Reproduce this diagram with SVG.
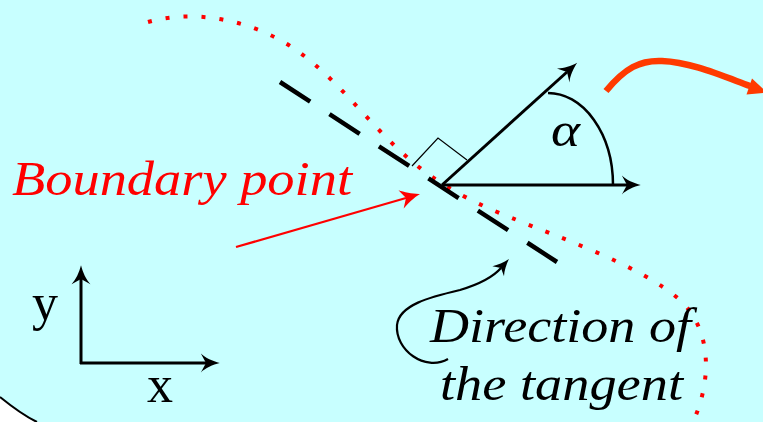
<svg xmlns="http://www.w3.org/2000/svg" width="763" height="422" viewBox="0 0 763 422">
  <defs>
    <style>
      .lbl { font-family: "Liberation Serif", "Times New Roman", serif; font-style: italic; font-size: 48px; }
      .ax { font-family: "Liberation Serif", "Times New Roman", serif; font-size: 52px; fill: #000; }
      .blk { fill: none; stroke: #000; }
    </style>
    <marker id="ah" markerUnits="userSpaceOnUse" markerWidth="30" markerHeight="30" refX="6" refY="0" orient="auto" overflow="visible" viewBox="-5 -15 35 30">
      <path d="M22,0 C14,-2 5,-6 0,-11 L6,0 L0,11 C5,6 14,2 22,0 Z" fill="#000"/>
    </marker>
    <marker id="ahs" markerUnits="userSpaceOnUse" markerWidth="30" markerHeight="30" refX="5" refY="0" orient="auto" overflow="visible" viewBox="-5 -15 35 30">
      <path d="M19,0 C12,-2 5,-5 0,-9 L5,0 L0,9 C5,5 12,2 19,0 Z" fill="#000"/>
    </marker>
    <marker id="ahr" markerUnits="userSpaceOnUse" markerWidth="30" markerHeight="30" refX="6" refY="0" orient="auto" overflow="visible" viewBox="-5 -15 35 30">
      <path d="M23,0 C15,-2 6,-7 0,-11 L6,0 L0,11 C6,7 15,2 23,0 Z" fill="#ff0000"/>
    </marker>
  </defs>

  <rect x="0" y="0" width="763" height="422" fill="#c8ffff"/>
  <g id="region-edge">
    <path d="M0,397 Q21.5,414.5 37,422 L0,422 Z" fill="#ffffff"/>
    <path d="M0,397 Q21.5,414.5 37,422" fill="none" stroke="#000" stroke-width="2"/>
  </g>

  <g id="boundary-curve">
    <path d="M148,22 C190,10 240,18 280,40 C320,62 350,100 380,131 C410,162 440,190 512,218 C560,238 640,265 680,300 C712,330 712,380 693,422" fill="none" stroke="#ff0000" stroke-width="4" stroke-dasharray="4 14"/>
  </g>

  <g id="tangent-line">
    <path d="M280,82 L557,262" class="blk" stroke-width="4.5" stroke-dasharray="36 23"/>
  </g>

  <g id="right-angle">
    <path d="M412,166 L438,138 L467,160" class="blk" stroke-width="1.2"/>
  </g>

  <g id="connectors">
    <path id="vec-normal" d="M442,185 L567,72" class="blk" stroke-width="3" marker-end="url(#ah)"/>
    <path id="vec-x" d="M442,185 L627,185" class="blk" stroke-width="3" marker-end="url(#ah)"/>
    <path id="angle-arc" d="M548,93 A65,92 0 0 1 613,185" class="blk" stroke-width="2.5"/>
    <path id="axis-y" d="M81,364 L81,279" class="blk" stroke-width="3" marker-end="url(#ah)"/>
    <path id="axis-x" d="M80,363 L206,363" class="blk" stroke-width="3" marker-end="url(#ah)"/>
    <path id="boundary-arrow" d="M236,247 L406,198" fill="none" stroke="#ff0000" stroke-width="2.2" marker-end="url(#ahr)"/>
    <path id="tangent-arrow" d="M448,359 C425,372 395,350 397,325 C399,305 430,297 460,290 C480,284 494,276 501,268" class="blk" stroke-width="2.2" marker-end="url(#ahs)"/>
    <g id="flow-arrow">
      <path d="M606,91 C625,68 640,60 662,61 C690,62 720,75 750,86" fill="none" stroke="#ff3a00" stroke-width="6.5"/>
      <polygon points="767,92.5 752,78.5 746.5,94.5" fill="#ff3a00"/>
    </g>
  </g>

  <g id="label-boundary">
    <text x="12" y="195" class="lbl" fill="#ff0000" textLength="340" lengthAdjust="spacingAndGlyphs">Boundary point</text>
  </g>
  <g id="label-tangent">
    <text x="430" y="342" class="lbl" fill="#000" textLength="261" lengthAdjust="spacingAndGlyphs">Direction of</text>
    <text x="440" y="400" class="lbl" fill="#000" textLength="243" lengthAdjust="spacingAndGlyphs">the tangent</text>
  </g>
  <g id="label-alpha">
    <text x="551" y="146" class="lbl" font-size="46" fill="#000" textLength="29" lengthAdjust="spacingAndGlyphs">α</text>
  </g>
  <g id="label-axes">
    <text x="32" y="320" class="ax">y</text>
    <text x="147" y="402" class="ax">x</text>
  </g>
</svg>
